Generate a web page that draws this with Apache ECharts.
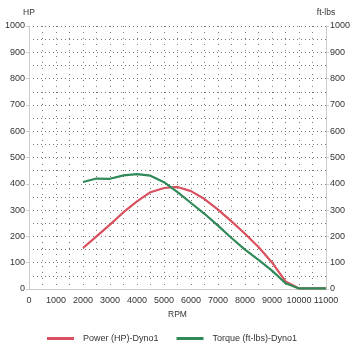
<!DOCTYPE html>
<html>
<head>
<meta charset="utf-8">
<script src="https://cdn.jsdelivr.net/npm/echarts@6/dist/echarts.min.js"></script>
<style>
  html, body { margin: 0; padding: 0; background: #fff; }
  #chart { width: 355px; height: 352px; }
</style>
</head>
<body>
<div id="chart"></div>
<script>
// RPM sample points
const rpm = [2000, 2500, 3000, 3500, 4000, 4500, 5000, 5500, 6000, 6500, 7000,
  7500, 8000, 8500, 9000, 9500, 10000, 10500, 11000];
// Power (HP)
const power = [156, 200, 245, 292, 333, 368, 384, 388, 372, 342, 302,
  257, 210, 160, 101, 29, 2, 2, 2];
// Torque (ft-lbs)
const torque = [407, 420, 419, 432, 437, 431, 406, 368, 327, 286, 241,
  194, 150, 111, 70, 22, 2, 2, 2];

const seriesNames = ['Power (HP)-Dyno1', 'Torque (ft-lbs)-Dyno1'];
const colors = ['#d9505f', '#2f8a58'];

const chart = echarts.init(document.getElementById('chart'));

const font = 'Liberation Sans, Arial, sans-serif';
const hDots = { color: '#777', width: 1, type: [1, 3] };
const vDots = { color: '#777', width: 1, type: [1, 5] };
const plain = v => String(v);

function yAxis(name, pos) {
  return {
    type: 'value',
    position: pos,
    min: 0, max: 1000, interval: 100,
    name: name,
    nameGap: 9,
    nameTextStyle: { color: '#333', fontSize: 8.5, fontFamily: font },
    axisLine: { show: true, lineStyle: { color: '#ccc' } },
    axisTick: { show: true, length: 3, lineStyle: { color: '#ccc' } },
    axisLabel: { color: '#333', fontSize: 9, fontFamily: font, margin: 4, formatter: plain },
    splitLine: { show: pos === 'left', lineStyle: hDots },
    minorTick: { show: pos === 'left', splitNumber: 2, length: 0 },
    minorSplitLine: { show: pos === 'left', lineStyle: hDots }
  };
}

chart.setOption({
  animation: false,
  grid: { left: 29, right: 29, top: 26, bottom: 63 },
  xAxis: {
    type: 'value',
    min: 0, max: 11000, interval: 1000,
    name: 'RPM',
    nameLocation: 'middle',
    nameGap: 21,
    nameTextStyle: { color: '#333', fontSize: 8.5, fontFamily: font },
    axisLine: { show: true, lineStyle: { color: '#ccc' } },
    axisTick: { show: false },
    axisLabel: {
      color: '#333', fontSize: 9, fontFamily: font, margin: 7, formatter: plain,
      showMinLabel: true, showMaxLabel: true, hideOverlap: false
    },
    splitLine: { show: true, lineStyle: vDots },
    minorTick: { show: true, splitNumber: 2, length: 0 },
    minorSplitLine: { show: true, lineStyle: vDots }
  },
  yAxis: [yAxis('HP', 'left'), yAxis('ft-lbs', 'right')],
  legend: {
    bottom: 9,
    left: 47,
    padding: 0,
    icon: 'rect',
    itemWidth: 27,
    itemHeight: 3,
    itemGap: 18,
    textStyle: { color: '#333', fontSize: 9, fontFamily: font, padding: [0, 0, 0, 4] },
    data: seriesNames
  },
  series: [
    {
      name: seriesNames[0],
      type: 'line',
      yAxisIndex: 0,
      showSymbol: false,
      data: rpm.map((r, i) => [r, power[i]]),
      lineStyle: { color: colors[0], width: 2.2 },
      itemStyle: { color: colors[0] }
    },
    {
      name: seriesNames[1],
      type: 'line',
      yAxisIndex: 1,
      showSymbol: false,
      data: rpm.map((r, i) => [r, torque[i]]),
      lineStyle: { color: colors[1], width: 2.2 },
      itemStyle: { color: colors[1] }
    }
  ]
});
</script>
</body>
</html>
